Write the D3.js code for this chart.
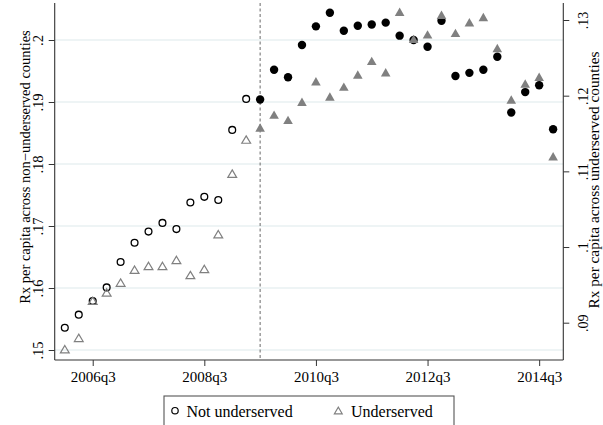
<!DOCTYPE html>
<html>
<head>
<meta charset="utf-8">
<script src="https://cdn.jsdelivr.net/npm/d3@7"></script>
<style>
  html, body { margin: 0; padding: 0; background: #fff; }
  svg { display: block; }
</style>
</head>
<body>
<script>
// Quarterly periods on the horizontal axis
const quarters = [
  "2006q1","2006q2","2006q3","2006q4","2007q1","2007q2","2007q3","2007q4",
  "2008q1","2008q2","2008q3","2008q4","2009q1","2009q2","2009q3","2009q4",
  "2010q1","2010q2","2010q3","2010q4","2011q1","2011q2","2011q3","2011q4",
  "2012q1","2012q2","2012q3","2012q4","2013q1","2013q2","2013q3","2013q4",
  "2014q1","2014q2","2014q3","2014q4"
];

// Rx per capita, non-underserved counties (left axis)
const notUnderserved = [
  0.1536, 0.1557, 0.1579, 0.1601, 0.1642, 0.1673, 0.1691, 0.1705,
  0.1695, 0.1738, 0.1747, 0.1742, 0.1855, 0.1905, 0.1904, 0.1952,
  0.1940, 0.1992, 0.2022, 0.2044, 0.2015, 0.2023, 0.2025, 0.2028,
  0.2007, 0.2000, 0.1989, 0.2031, 0.1942, 0.1947, 0.1952, 0.1973,
  0.1883, 0.1916, 0.1927, 0.1856
];

// Rx per capita, underserved counties (right axis)
const underserved = [
  0.0865, 0.0880, 0.0929, 0.0940, 0.0953, 0.0970, 0.0975, 0.0975,
  0.0983, 0.0963, 0.0971, 0.1017, 0.1097, 0.1142, 0.1158, 0.1175,
  0.1168, 0.1192, 0.1219, 0.1199, 0.1212, 0.1228, 0.1246, 0.1231,
  0.1311, 0.1275, 0.1281, 0.1307, 0.1283, 0.1297, 0.1304, 0.1263,
  0.1195, 0.1216, 0.1225, 0.1120
];

// First quarter of the post period (marked by the dashed line; markers filled from here)
const policyQuarter = "2009q3";

// Axis ticks and labels
const xTickLabels = ["2006q3", "2008q3", "2010q3", "2012q3", "2014q3"];
const leftTicks = [0.15, 0.16, 0.17, 0.18, 0.19, 0.20];
const leftTickLabels = [".15", ".16", ".17", ".18", ".19", ".2"];
const rightTicks = [0.09, 0.10, 0.11, 0.12, 0.13];
const rightTickLabels = [".09", ".1", ".11", ".12", ".13"];

const seriesNames = ["Not underserved", "Underserved"];
const leftTitle = "Rx per capita across non\u2212underserved counties";
const rightTitle = "Rx per capita across underserved counties";

// ---- layout ----
const W = 603, H = 425;
const plot = { left: 54.7, right: 563.3, top: 3, bottom: 360 };
const FONT = "'Liberation Serif', 'Times New Roman', Times, serif";
const axisColor = "#333";
const gray = "#808080";

const svg = d3.select("body").append("svg")
  .attr("width", W).attr("height", H)
  .attr("viewBox", `0 0 ${W} ${H}`)
  .style("font-family", FONT);

// Scales: x uses the quarter index
const x = d3.scaleLinear().domain([-0.724, 35.73]).range([plot.left, plot.right]);
const yL = d3.scaleLinear().domain([0.15, 0.20]).range([350, 40]);
const yR = d3.scaleLinear().domain([0.09, 0.13]).range([322.7, 20]);

const policyIdx = quarters.indexOf(policyQuarter);

// Gridlines at the left-axis ticks
svg.append("g").selectAll("line").data(leftTicks).join("line")
  .attr("x1", plot.left).attr("x2", plot.right)
  .attr("y1", d => yL(d)).attr("y2", d => yL(d))
  .attr("stroke", "#e9f0f2").attr("stroke-width", 1.3);

// Dashed vertical line at the start of the post period
svg.append("line")
  .attr("x1", x(policyIdx)).attr("x2", x(policyIdx))
  .attr("y1", plot.top).attr("y2", plot.bottom)
  .attr("stroke", "#777").attr("stroke-width", 1.1)
  .attr("stroke-dasharray", "3,2.5");

// ---- axes ----
function styleAxis(g, size) {
  g.select(".domain").remove();
  g.selectAll(".tick line").attr("stroke", axisColor).attr("stroke-width", 1);
  g.selectAll(".tick text")
    .attr("fill", "#000")
    .style("font-family", FONT)
    .style("font-size", size);
}

// Bottom axis
const xTickIdx = xTickLabels.map(l => quarters.indexOf(l));
const gx = svg.append("g")
  .attr("transform", `translate(0,${plot.bottom})`)
  .call(d3.axisBottom(x).tickValues(xTickIdx)
    .tickFormat((d, i) => xTickLabels[i]).tickSize(6).tickSizeOuter(0));
styleAxis(gx, "15px");
gx.selectAll(".tick text").attr("y", 21.5).attr("dy", 0);

// Left axis (labels rotated, baseline on the right side)
const gl = svg.append("g")
  .attr("transform", `translate(${plot.left},0)`)
  .call(d3.axisLeft(yL).tickValues(leftTicks)
    .tickFormat((d, i) => leftTickLabels[i]).tickSize(6).tickSizeOuter(0));
styleAxis(gl, "14.5px");
gl.selectAll(".tick text")
  .attr("transform", "rotate(-90)")
  .attr("x", 0).attr("y", -11.7).attr("dy", 0)
  .attr("text-anchor", "middle");

// Right axis
const gr = svg.append("g")
  .attr("transform", `translate(${plot.right},0)`)
  .call(d3.axisRight(yR).tickValues(rightTicks)
    .tickFormat((d, i) => rightTickLabels[i]).tickSize(6).tickSizeOuter(0));
styleAxis(gr, "14px");
gr.selectAll(".tick text")
  .attr("transform", "rotate(-90)")
  .attr("x", 0).attr("y", 24.7).attr("dy", 0)
  .attr("text-anchor", "middle");

// Axis lines
const frame = svg.append("g").attr("stroke", axisColor).attr("stroke-width", 1.1);
frame.append("line").attr("x1", plot.left).attr("x2", plot.left)
  .attr("y1", plot.top).attr("y2", plot.bottom);
frame.append("line").attr("x1", plot.right).attr("x2", plot.right)
  .attr("y1", plot.top).attr("y2", plot.bottom);
frame.append("line").attr("x1", plot.left).attr("x2", plot.right)
  .attr("y1", plot.bottom).attr("y2", plot.bottom);

// Axis titles (alphabetic baseline on the right of the rotated text)
svg.append("text")
  .attr("transform", "translate(30,167) rotate(-90)")
  .attr("text-anchor", "middle")
  .style("font-size", "14.5px").text(leftTitle);
svg.append("text")
  .attr("transform", "translate(599.2,180) rotate(-90)")
  .attr("text-anchor", "middle")
  .style("font-size", "15.3px").text(rightTitle);

// ---- markers ----
const triPath = (w, h) => `M0,${-h}L${w},${h}L${-w},${h}Z`;
const rows = quarters.map((q, i) => ({
  i, q, nu: notUnderserved[i], u: underserved[i], post: i >= policyIdx
}));

const marks = svg.append("g");
// Circles: non-underserved
marks.selectAll("circle.nu").data(rows).join("circle")
  .attr("class", "nu")
  .attr("cx", d => x(d.i)).attr("cy", d => yL(d.nu))
  .attr("r", d => d.post ? 4.2 : 3.4)
  .attr("fill", d => d.post ? "#000" : "none")
  .attr("stroke", d => d.post ? "none" : "#000")
  .attr("stroke-width", 1.3);
// Triangles: underserved
marks.selectAll("path.u").data(rows).join("path")
  .attr("class", "u")
  .attr("transform", d => `translate(${x(d.i)},${yR(d.u)})`)
  .attr("d", d => d.post ? triPath(4.8, 4.2) : triPath(4.4, 3.7))
  .attr("fill", d => d.post ? gray : "none")
  .attr("stroke", gray)
  .attr("stroke-width", d => d.post ? 0 : 1.2)
  .attr("stroke-linejoin", "miter");

// ---- legend ----
const lg = svg.append("g");
lg.append("rect")
  .attr("x", 164).attr("y", 396).attr("width", 290).attr("height", 45)
  .attr("fill", "#fff").attr("stroke", "#555").attr("stroke-width", 1.1);
lg.append("circle").attr("cx", 175).attr("cy", 410.7).attr("r", 3.2)
  .attr("fill", "none").attr("stroke", "#000").attr("stroke-width", 1.2);
lg.append("text").attr("x", 186.5).attr("y", 416.5)
  .style("font-size", "16px").text(seriesNames[0]);
lg.append("path").attr("transform", "translate(338.3,410.5)")
  .attr("d", triPath(4.0, 3.4))
  .attr("fill", "none").attr("stroke", gray).attr("stroke-width", 1.1);
lg.append("text").attr("x", 351).attr("y", 416.5)
  .style("font-size", "16px").text(seriesNames[1]);
</script>
</body>
</html>
